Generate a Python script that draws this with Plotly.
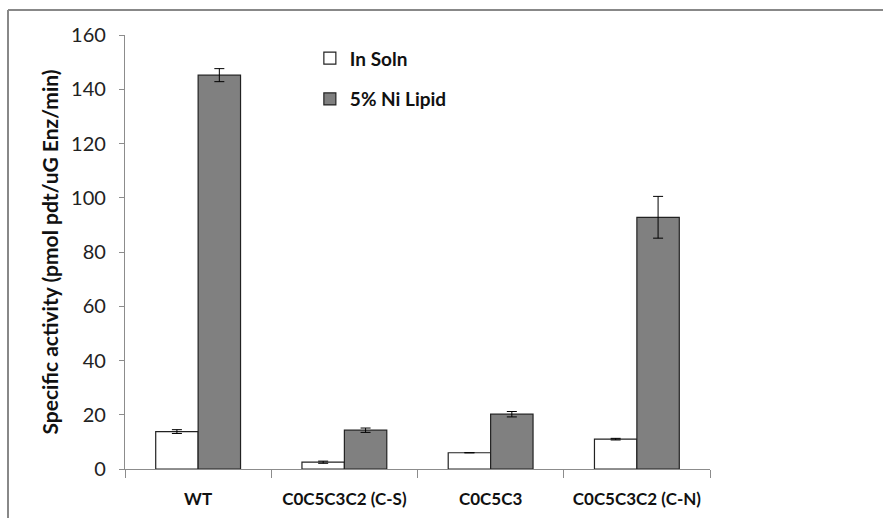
import plotly.graph_objects as go

categories = ["WT", "C0C5C3C2 (C-S)", "C0C5C3", "C0C5C3C2 (C-N)"]
in_soln = [13.8, 2.5, 6.0, 11.0]
in_soln_err = [0.7, 0.4, 0.0, 0.3]
ni_lipid = [145.2, 14.3, 20.2, 92.8]
ni_lipid_err = [2.4, 0.8, 1.0, 7.7]
y_ticks = [0, 20, 40, 60, 80, 100, 120, 140, 160]

FONT = "Lato"
axis_col = "#8c8c8c"

fig = go.Figure()
fig.add_trace(go.Bar(
    x=categories, y=in_soln, name="In Soln", legendgroup="a",
    marker=dict(color="white", line=dict(color="#222222", width=1.2)),
    error_y=dict(type="data", array=in_soln_err, color="black", thickness=1, width=5),
))
fig.add_trace(go.Bar(
    x=categories, y=ni_lipid, name="5% Ni Lipid", legendgroup="b",
    marker=dict(color="#808080", line=dict(color="#222222", width=1.2)),
    error_y=dict(type="data", array=ni_lipid_err, color="black", thickness=1, width=5),
))

fig.update_layout(
    width=883, height=518,
    margin=dict(l=125, r=173, t=35, b=49),
    paper_bgcolor="white", plot_bgcolor="white",
    barmode="group", bargap=0.42, bargroupgap=0,
    font=dict(family=FONT, color="#222222"),
    showlegend=True,
    legend=dict(
        x=0.316, y=0.99, xanchor="left", yanchor="top",
        font=dict(family=FONT, size=19, color="#111111", weight="bold"),
        tracegroupgap=13, bgcolor="rgba(0,0,0,0)",
        itemwidth=30,
    ),
    xaxis=dict(
        showline=True, linecolor=axis_col, linewidth=1.3,
        ticks="outside", tickson="boundaries", ticklen=8, tickcolor=axis_col,
        tickfont=dict(family=FONT, size=17, color="#111111", weight="bold"),
        ticklabelstandoff=14, automargin=False,
        showgrid=False, zeroline=False,
    ),
    yaxis=dict(
        range=[0, 160], tickvals=y_ticks,
        showline=True, linecolor=axis_col, linewidth=1.3,
        ticks="outside", ticklen=5, tickcolor=axis_col,
        tickfont=dict(family=FONT, size=20, color="#222222"),
        ticklabelstandoff=9, automargin=False,
        showgrid=False, zeroline=False,
        title=dict(text="Specific activity (pmol pdt/uG Enz/min)",
                   font=dict(family=FONT, size=21, color="#111111", weight="bold"),
                   standoff=6),
    ),
)

# outer chart-area border (top and left edges visible)
pw, ph = 883 - 125 - 173, 518 - 35 - 49
def px_x(p):
    return (p - 125) / pw
def px_y(p):
    return 1 - (p - 35) / ph
fig.add_shape(type="line", xref="paper", yref="paper",
              x0=px_x(8), x1=px_x(890), y0=px_y(10), y1=px_y(10),
              line=dict(color="#888888", width=2))
fig.add_shape(type="line", xref="paper", yref="paper",
              x0=px_x(8), x1=px_x(8), y0=px_y(10), y1=px_y(525),
              line=dict(color="#888888", width=2))

fig.write_html("out.html")
